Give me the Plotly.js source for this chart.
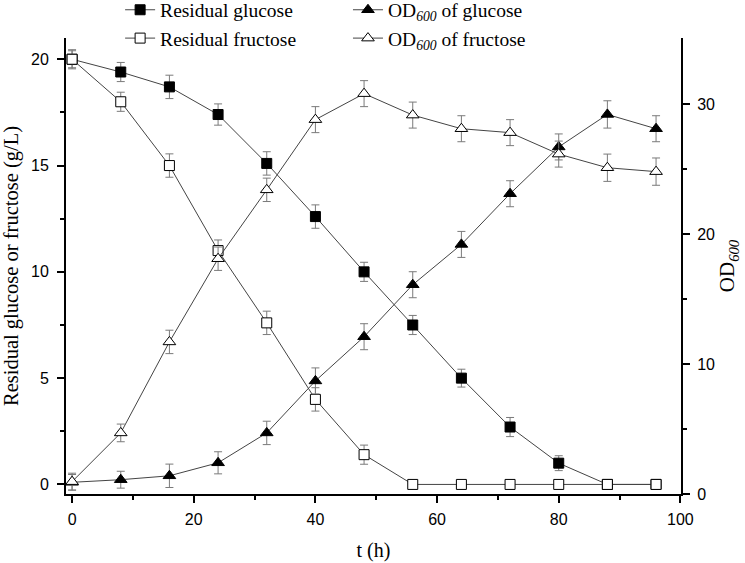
<!DOCTYPE html>
<html>
<head>
<meta charset="utf-8">
<script src="https://cdn.plot.ly/plotly-3.0.1.min.js"></script>
<style>html,body{margin:0;padding:0;background:#fff;}#chart{width:745px;height:563px;}</style>
</head>
<body>
<div id="chart"></div>
<script>
// Time (h)
var timeH = [0, 8, 16, 24, 32, 40, 48, 56, 64, 72, 80, 88, 96];
// Residual sugars (g/L)
var residualGlucose = [20.0, 19.4, 18.7, 17.4, 15.1, 12.6, 10.0, 7.5, 5.0, 2.7, 1.0, 0, 0];
var residualGlucoseErr = [0.45, 0.45, 0.55, 0.5, 0.55, 0.55, 0.45, 0.45, 0.42, 0.45, 0.35, 0, 0];
var residualFructose = [20.0, 18.0, 15.0, 11.0, 7.6, 4.0, 1.4, 0, 0, 0, 0, 0, 0];
var residualFructoseErr = [0.4, 0.45, 0.55, 0.5, 0.55, 0.55, 0.45, 0, 0, 0, 0, 0, 0];
// OD600
var odGlucose = [0.9, 1.1, 1.4, 2.4, 4.7, 8.7, 12.1, 16.1, 19.2, 23.1, 26.7, 29.2, 28.1];
var odGlucoseErr = [0.6, 0.65, 0.9, 0.85, 0.9, 1.0, 1.0, 1.0, 1.0, 1.0, 1.0, 1.05, 1.0];
var odFructose = [0.95, 4.7, 11.7, 18.1, 23.4, 28.8, 30.8, 29.15, 28.1, 27.8, 26.15, 25.1, 24.8];
var odFructoseErr = [0.65, 0.68, 0.9, 0.9, 0.9, 1.0, 1.0, 1.0, 1.0, 1.0, 1.0, 1.05, 1.05];

var names = ['Residual glucose', 'Residual fructose',
  'OD<sub><i>600</i></sub> of glucose', 'OD<sub><i>600</i></sub> of fructose'];

var lineStyle = {color: '#444', width: 1};
function errBar(arr) {
  return {type: 'data', array: arr, visible: true, color: '#7a7a7a', thickness: 1, width: 4};
}

var traces = [
  {x: timeH, y: residualGlucose, name: names[0], type: 'scatter', mode: 'lines+markers',
   line: lineStyle, error_y: errBar(residualGlucoseErr),
   marker: {symbol: 'square', size: 10, color: '#000', line: {color: '#000', width: 1}},
   legend: 'legend'},
  {x: timeH, y: residualFructose, name: names[1], type: 'scatter', mode: 'lines+markers',
   line: lineStyle, error_y: errBar(residualFructoseErr),
   marker: {symbol: 'square', size: 10, color: '#fff', line: {color: '#000', width: 1}},
   legend: 'legend'},
  {x: timeH, y: odGlucose, name: names[2], type: 'scatter', mode: 'lines+markers', yaxis: 'y2',
   line: lineStyle, error_y: errBar(odGlucoseErr),
   marker: {symbol: 'triangle-up', size: 11, color: '#000', line: {color: '#000', width: 1}},
   legend: 'legend2'},
  {x: timeH, y: odFructose, name: names[3], type: 'scatter', mode: 'lines+markers', yaxis: 'y2',
   line: lineStyle, error_y: errBar(odFructoseErr),
   marker: {symbol: 'triangle-up', size: 11, color: '#fff', line: {color: '#000', width: 1}},
   legend: 'legend2'}
];

var serif = 'Liberation Serif, Times New Roman, serif';
var sans = 'Liberation Sans, Arial, sans-serif';

function minorTicks(vals) {
  return {ticks: 'outside', ticklen: 4, tickwidth: 2, tickcolor: '#000', tickvals: vals};
}

var axisCommon = {
  showgrid: false, zeroline: false, showline: true, linecolor: '#000', linewidth: 2,
  ticks: 'outside', ticklen: 7, tickwidth: 2, tickcolor: '#000',
  tickfont: {family: sans, size: 16, color: '#000'}
};

var layout = {
  width: 745, height: 563,
  margin: {l: 66, r: 64, t: 38, b: 69, autoexpand: false},
  paper_bgcolor: '#fff', plot_bgcolor: '#fff',
  showlegend: true,
  xaxis: Object.assign({}, axisCommon, {
    range: [-1, 100.1], tickvals: [0, 20, 40, 60, 80, 100], ticklabelstandoff: 3,
    minor: minorTicks([10, 30, 50, 70, 90]),
    title: {text: 't (h)', font: {family: serif, size: 20, color: '#000'}, standoff: 16}
  }),
  yaxis: Object.assign({}, axisCommon, {
    range: [-0.45, 21.0], tickvals: [0, 5, 10, 15, 20], ticklabelstandoff: 5,
    minor: minorTicks([2.5, 7.5, 12.5, 17.5]),
    title: {text: 'Residual glucose or fructose (g/L)', font: {family: serif, size: 20.5, color: '#000'}, standoff: 8}
  }),
  yaxis2: Object.assign({}, axisCommon, {
    overlaying: 'y', side: 'right', range: [0, 35.08], tickvals: [0, 10, 20, 30], ticklabelstandoff: 4,
    minor: minorTicks([5, 15, 25]),
    title: {text: 'OD<sub><i>600</i></sub>', font: {family: serif, size: 21, color: '#000'}, standoff: 4}
  }),
  legend: {x: 0.088, xanchor: 'left', y: 1.104, yanchor: 'top', bgcolor: 'rgba(0,0,0,0)',
    font: {family: serif, size: 19.5, color: '#000'}, tracegroupgap: 0, itemwidth: 30},
  legend2: {x: 0.4585, xanchor: 'left', y: 1.104, yanchor: 'top', bgcolor: 'rgba(0,0,0,0)',
    font: {family: serif, size: 19.5, color: '#000'}, tracegroupgap: 0, itemwidth: 30}
};

Plotly.newPlot('chart', traces, layout, {displayModeBar: false, staticPlot: true});
</script>
</body>
</html>
